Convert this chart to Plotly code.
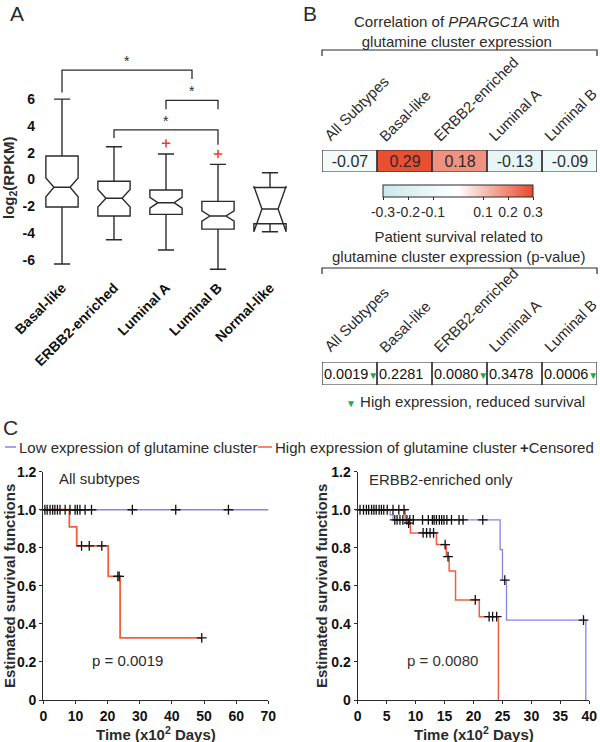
import plotly.graph_objects as go

W, H = 600, 742
FONT = "Liberation Sans, Arial, Helvetica, sans-serif"
INK = "#2b2b2b"
BLUE = "#8585dd"
RED = "#f0603c"
GREEN = "#1fa84a"

# ---- panel A: log2(RPKM) per subtype (box summaries)
subtypes = ["Basal-like", "ERBB2-enriched", "Luminal A", "Luminal B", "Normal-like"]
box_upper = [6.0, 2.45, 1.9, 1.13, 0.5]
box_q3 = [1.75, -0.13, -0.78, -1.63, -0.6]
box_median = [-0.58, -1.4, -1.73, -2.72, -2.2]
box_q1 = [-2.05, -2.72, -2.6, -3.7, -3.3]
box_lower = [-6.3, -4.5, -5.26, -6.7, -3.3]
box_notch = [0.7, 0.65, 0.4, 0.38, 1.7]
outlier_pos = [2, 3]
outlier_val = [2.7, 1.9]
a_yticks = [-6, -4, -2, 0, 2, 4, 6]

# significance brackets: from / to (box index), top, foot of each leg
sig_x0 = [0, 2, 1]
sig_x1 = [2.5, 3, 3]
sig_top = [8.17, 5.9, 3.7]
sig_foot0 = [6.5, 5.25, 3.1]
sig_foot1 = [7.5, 5.25, 2.6]

# ---- panel B
b_cols = ["All Subtypes", "Basal-like", "ERBB2-enriched", "Luminal A", "Luminal B"]
corr_vals = [-0.07, 0.29, 0.18, -0.13, -0.09]
p_vals = ["0.0019", "0.2281", "0.0080", "0.3478", "0.0006"]
p_reduced = [True, False, True, False, True]
cbar_ticks = [-0.3, -0.2, -0.1, 0.1, 0.2, 0.3]

# ---- panel C: Kaplan-Meier curves (time in x10^2 days)
all_low_t = [0, 71.4]
all_low_s = [1.0, 1.0]
all_high_t = [0, 8.1, 10.4, 20.2, 23.9, 49.3]
all_high_s = [1.0, 0.91, 0.81, 0.65, 0.327, 0.327]
all_cens_t = [0.5, 1.2, 2.1, 2.9, 3.6, 4.4, 5.2, 6.8, 8.3, 9.9, 10.6, 11.4, 13.0, 15.0,
              27.7, 41.2, 57.6, 71.4, 11.9, 14.3, 18.2, 23.2, 23.6, 49.3]
all_cens_s = [1.0, 1.0, 1.0, 1.0, 1.0, 1.0, 1.0, 1.0, 1.0, 1.0, 1.0, 1.0, 1.0, 1.0,
              1.0, 1.0, 1.0, 1.0, 0.81, 0.81, 0.81, 0.65, 0.65, 0.327]

erbb_low_t = [0, 5.6, 6.1, 24.6, 25.0, 25.7, 39.4]
erbb_low_s = [1.0, 0.973, 0.947, 0.79, 0.63, 0.42, 0.0]
erbb_high_t = [0, 8.2, 9.1, 13.6, 15.3, 15.8, 16.9, 21.0, 24.3]
erbb_high_s = [1.0, 0.93, 0.878, 0.817, 0.754, 0.678, 0.526, 0.438, 0.0]
erbb_cens_t = [0.4, 1.0, 1.5, 1.9, 2.4, 2.8, 3.2, 3.7, 4.1, 4.5, 5.1, 6.1, 7.1, 8.0,
               6.4, 6.8, 7.3, 7.8, 8.5, 9.0, 9.6, 11.2, 12.2, 12.9, 13.2, 13.6, 14.1,
               14.5, 14.9, 15.4, 16.2, 17.5, 18.2, 21.6,
               8.8, 11.3, 11.9, 12.5, 13.1, 15.1, 15.6, 20.3, 22.7, 23.3, 24.0, 25.4, 39.0]
erbb_cens_s = [1.0, 1.0, 1.0, 1.0, 1.0, 1.0, 1.0, 1.0, 1.0, 1.0, 1.0, 1.0, 1.0, 1.0,
               0.947, 0.947, 0.947, 0.947, 0.947, 0.947, 0.947, 0.947, 0.947, 0.947,
               0.947, 0.947, 0.947, 0.947, 0.947, 0.947, 0.947, 0.947, 0.947, 0.947,
               0.93, 0.878, 0.878, 0.878, 0.878, 0.817, 0.754, 0.526, 0.438, 0.438,
               0.438, 0.63, 0.42]
km_yticks = [0, 0.2, 0.4, 0.6, 0.8, 1.0, 1.2]
km_ytext = ["0", "0.2", "0.4", "0.6", "0.8", "1.0", "1.2"]


def px(x):
    return x / W


def py(y):
    return 1 - y / H


B_LEFT, B_RIGHT = 322, 597
cell_w = (B_RIGHT - B_LEFT) / len(b_cols)

fig = go.Figure()

# A: boxes
fig.add_trace(go.Box(
    x=list(range(len(subtypes))), q1=box_q1, median=box_median, q3=box_q3,
    lowerfence=box_lower, upperfence=box_upper, notchspan=box_notch,
    notched=True, boxpoints=False, width=0.62, whiskerwidth=0.5,
    line=dict(color=INK, width=1.4), fillcolor="rgba(255,255,255,0)",
    showlegend=False, hoverinfo="skip", xaxis="x", yaxis="y"))
fig.add_trace(go.Scatter(
    x=outlier_pos, y=outlier_val, mode="markers", showlegend=False, hoverinfo="skip",
    marker=dict(symbol="cross-thin", size=6, line=dict(color="#f03a20", width=1.5)),
    xaxis="x", yaxis="y"))

# B: correlation heatmap
fig.add_trace(go.Heatmap(
    z=[corr_vals], x=list(range(len(b_cols))), y=[0], zmin=-0.3, zmax=0.3,
    colorscale=[[0, "#c9e9eb"], [0.5, "#ffffff"], [1, "#e8492b"]],
    text=[[f"{v:.2f}" for v in corr_vals]], texttemplate="%{text}",
    textfont=dict(size=16, color=INK, family=FONT), hoverinfo="skip",
    xaxis="x2", yaxis="y2",
    colorbar=dict(orientation="h", x=px(458), xanchor="center", y=py(185), yanchor="top",
                  len=150, lenmode="pixels", thickness=12, thicknessmode="pixels",
                  outlinewidth=1, outlinecolor=INK, xpad=0, ypad=0,
                  tickvals=cbar_ticks, ticktext=[f"{t:.1f}" for t in cbar_ticks],
                  ticks="outside", ticklen=3, tickcolor=INK, tickangle=0,
                  tickfont=dict(size=14, color=INK, family=FONT))))

# B: p-value table (white cells)
fig.add_trace(go.Heatmap(
    z=[[0 for _ in p_vals]], x=list(range(len(b_cols))), y=[0],
    colorscale=[[0, "#ffffff"], [1, "#ffffff"]], showscale=False, hoverinfo="skip",
    xaxis="x3", yaxis="y3"))

# C: KM curves
for t, s, c, w, xa, ya in [
    (all_low_t, all_low_s, BLUE, 1.3, "x4", "y4"),
    (all_high_t, all_high_s, RED, 1.8, "x4", "y4"),
    (erbb_low_t, erbb_low_s, BLUE, 1.3, "x5", "y5"),
    (erbb_high_t, erbb_high_s, RED, 1.5, "x5", "y5"),
]:
    fig.add_trace(go.Scatter(x=t, y=s, mode="lines", line=dict(shape="hv", color=c, width=w),
                             showlegend=False, hoverinfo="skip", xaxis=xa, yaxis=ya))
for t, s, xa, ya in [(all_cens_t, all_cens_s, "x4", "y4"), (erbb_cens_t, erbb_cens_s, "x5", "y5")]:
    fig.add_trace(go.Scatter(x=t, y=s, mode="markers", cliponaxis=False,
                             marker=dict(symbol="cross-thin", size=7, line=dict(color="#111", width=1.3)),
                             showlegend=False, hoverinfo="skip", xaxis=xa, yaxis=ya))

shapes = []
annotations = []

# significance brackets in A
for x0, x1, top, f0, f1 in zip(sig_x0, sig_x1, sig_top, sig_foot0, sig_foot1):
    shapes.append(dict(type="path", xref="x", yref="y",
                       path=f"M {x0},{f0} L {x0},{top} L {x1},{top} L {x1},{f1}",
                       line=dict(color=INK, width=1.3)))
    annotations.append(dict(x=(x0 + x1) / 2, y=top + 0.9, xref="x", yref="y", text="*",
                            font=dict(size=14, color=INK), yshift=-3))

# heatmap / table cell borders
for i in range(len(b_cols)):
    for xa, ya in [("x2", "y2"), ("x3", "y3")]:
        shapes.append(dict(type="rect", xref=xa, yref=ya, x0=i - 0.5, x1=i + 0.5, y0=-0.5, y1=0.5,
                           line=dict(color=INK, width=1.2)))

# title brackets in B
for ytop in [50, 268]:
    shapes.append(dict(type="path", xref="paper", yref="paper",
                       path=f"M {px(B_LEFT)},{py(ytop + 6)} L {px(B_LEFT)},{py(ytop)} "
                            f"L {px(B_RIGHT)},{py(ytop)} L {px(B_RIGHT)},{py(ytop + 6)}",
                       line=dict(color=INK, width=1.2)))

# legend swatches for panel C
for x0, x1, c in [(5, 16, BLUE), (258, 272, RED)]:
    shapes.append(dict(type="line", xref="paper", yref="paper", x0=px(x0), x1=px(x1),
                       y0=py(447), y1=py(447), line=dict(color=c, width=1.5)))

# column labels in B (rotated)
for i, name in enumerate(b_cols):
    for ybot in [147, 358]:
        annotations.append(dict(x=px(B_LEFT + i * cell_w - 4), y=py(ybot), text=name,
                                textangle=-45, xanchor="left", yanchor="bottom",
                                font=dict(size=15, color=INK)))

# p-values
for i, (p, red) in enumerate(zip(p_vals, p_reduced)):
    txt = p + (f"<span style='font-size:10px;color:{GREEN}'>▼</span>" if red else "")
    annotations.append(dict(x=px(B_LEFT + i * cell_w), y=py(374), text=txt, xanchor="left",
                            font=dict(size=14.5, color="#111")))

annotations += [
    dict(x=px(17), y=py(13), text="A", font=dict(size=21)),
    dict(x=px(310), y=py(13), text="B", font=dict(size=21)),
    dict(x=px(10), y=py(428), text="C", font=dict(size=21)),
    dict(x=px(10), y=py(178), text="log<sub>2</sub>(RPKM)", textangle=-90,
         font=dict(size=15, weight="bold")),
    dict(x=px(457), y=py(32), text="Correlation of <i>PPARGC1A</i> with<br>glutamine cluster expression",
         font=dict(size=15)),
    dict(x=px(458), y=py(246), text="Patient survival related to<br>glutamine cluster expression (p-value)",
         font=dict(size=15)),
    dict(x=px(465), y=py(401),
         text=f"<span style='font-size:10px;color:{GREEN}'>▼</span> High expression, reduced survival",
         font=dict(size=15)),
    dict(x=px(17), y=py(447), xanchor="left", text="Low expression of glutamine cluster",
         font=dict(size=15)),
    dict(x=px(273), y=py(447), xanchor="left", text="High expression of glutamine cluster",
         font=dict(size=15)),
    dict(x=px(518), y=py(447), xanchor="left", text="<b>+</b>Censored", font=dict(size=15)),
    dict(x=px(57), y=py(478), xanchor="left", text="All subtypes", font=dict(size=15)),
    dict(x=px(90), y=py(660), xanchor="left", text="p = 0.0019", font=dict(size=15)),
    dict(x=px(367), y=py(479), xanchor="left", text="ERBB2-enriched only", font=dict(size=15)),
    dict(x=px(405), y=py(660), xanchor="left", text="p = 0.0080", font=dict(size=15, color="#333")),
    dict(x=px(9), y=py(586), text="Estimated survival functions", textangle=-90,
         font=dict(size=15, weight="bold")),
    dict(x=px(321), y=py(586), text="Estimated survival functions", textangle=-90,
         font=dict(size=15, weight="bold")),
    dict(x=px(156), y=py(733), text="Time (x10<sup>2</sup> Days)", font=dict(size=15, weight="bold")),
    dict(x=px(474), y=py(733), text="Time (x10<sup>2</sup> Days)", font=dict(size=15, weight="bold")),
]
for a in annotations:
    a.setdefault("xref", "paper")
    a.setdefault("yref", "paper")
    a.setdefault("xanchor", "center")
    a.setdefault("yanchor", "middle")
    a.setdefault("showarrow", False)

km_axis = dict(showline=True, linecolor=INK, linewidth=1.3, ticks="outside", ticklen=3,
               tickwidth=1.3, tickcolor=INK, showgrid=False, zeroline=False,
               tickfont=dict(size=14, weight="bold", color="#111"))
hidden = dict(visible=False, showgrid=False, zeroline=False)

fig.update_layout(
    width=W, height=H, margin=dict(l=0, r=0, t=0, b=0, autoexpand=False),
    paper_bgcolor="white", plot_bgcolor="rgba(0,0,0,0)",
    font=dict(family=FONT, color=INK),
    showlegend=False,
    xaxis=dict(domain=[px(36), px(296)], range=[-0.5, 4.5], tickvals=list(range(len(subtypes))),
               ticktext=subtypes, tickangle=-45, showline=False, ticks="", showgrid=False,
               zeroline=False, anchor="y", tickfont=dict(size=14, weight="bold", color="#111")),
    yaxis=dict(domain=[py(276), py(48.2)], range=[-7.2, 9.8], tickvals=a_yticks,
               ticktext=[str(t) for t in a_yticks], showline=False, ticks="", showgrid=False,
               zeroline=False, anchor="x", tickfont=dict(size=14, weight="bold", color="#111")),
    xaxis2=dict(domain=[px(B_LEFT), px(B_RIGHT)], range=[-0.5, 4.5], anchor="y2", **hidden),
    yaxis2=dict(domain=[py(172), py(150)], range=[-0.5, 0.5], anchor="x2", **hidden),
    xaxis3=dict(domain=[px(B_LEFT), px(B_RIGHT)], range=[-0.5, 4.5], anchor="y3", **hidden),
    yaxis3=dict(domain=[py(385), py(362)], range=[-0.5, 0.5], anchor="x3", **hidden),
    xaxis4=dict(domain=[px(43.3), px(268.3)], range=[0, 70], dtick=10, anchor="y4", **km_axis),
    yaxis4=dict(domain=[py(700), py(471.7)], range=[0, 1.2], tickvals=km_yticks, ticktext=km_ytext,
                anchor="x4", **km_axis),
    xaxis5=dict(domain=[px(357.7), px(589.3)], range=[0, 40], dtick=5, anchor="y5", **km_axis),
    yaxis5=dict(domain=[py(700), py(471.7)], range=[0, 1.2], tickvals=km_yticks, ticktext=km_ytext,
                anchor="x5", **km_axis),
    shapes=shapes,
    annotations=annotations,
)

# the page's default body margin would shift the 600x742 figure off the window
fig.write_html("out.html", config={"displayModeBar": False},
               post_script="document.body.style.margin='0';")
